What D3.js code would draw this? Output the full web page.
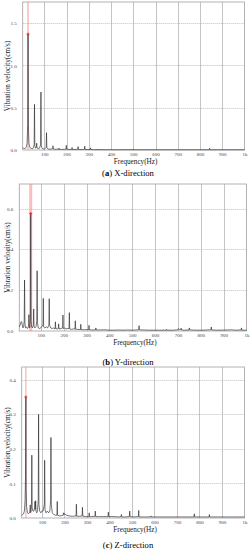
<!DOCTYPE html>
<html><head><meta charset="utf-8">
<script src="https://cdn.jsdelivr.net/npm/d3@7"></script>
<style>
html,body{margin:0;padding:0;background:#fff;}
svg{display:block;}
text{font-family:"Liberation Serif","Times New Roman",serif;}
</style></head>
<body><svg id="c" width="251" height="550"></svg>
<script>
// ---------- DATA ----------
const xTickValues = [100,200,300,400,500,600,700,800,900,1000];
const xTickLabels = ["100","200","300","400","500","600","700","800","900","1k"];
const xTitle = "Frequency(Hz)";
const yTitle = "Vibration velocity(cm/s)";
const captionLetters = ["a","b","c"];
const captionTexts = [" X-direction"," Y-direction"," Z-direction"];

const yTicksX = [0,0.5,1.0,1.5];
const yTicksY = [0,0.2,0.4,0.6];
const yTicksZ = [0,0.1,0.2,0.3,0.4];

const peakX = [27,1.37];
const peakY = [56,0.575];
const peakZ = [28.5,0.35];

const spectrumX = [[3,0.03],[6,0.02],[10,0.015],[15,0.02],[20,0.04],[23,0.09],[25.5,0.3],[27,1.37],[28.5,0.3],[31,0.08],[35,0.03],[40,0.02],[46,0.015],[50,0.02],[54.5,0.06],[56,0.54],[57.5,0.05],[61,0.02],[64.5,0.03],[66,0.08],[67.5,0.025],[72,0.015],[78,0.02],[83.5,0.06],[85,0.685],[86.5,0.05],[90,0.02],[96,0.012],[102,0.015],[108.5,0.03],[110,0.205],[111.5,0.025],[118,0.012],[126,0.01],[133,0.012],[137.5,0.015],[139,0.05],[140.5,0.012],[148,0.008],[156,0.01],[164.5,0.008],[166,0.022],[167.5,0.008],[178,0.007],[190,0.008],[197.5,0.01],[199,0.055],[200.5,0.01],[212,0.006],[223.5,0.007],[225,0.03],[226.5,0.006],[238,0.006],[250.5,0.008],[252,0.04],[253.5,0.007],[266,0.005],[280.5,0.008],[282,0.045],[283.5,0.006],[296,0.005],[306.5,0.006],[308,0.025],[309.5,0.005],[325,0.004],[336.5,0.004],[338,0.012],[339.5,0.004],[360,0.004],[380,0.003],[400,0.004],[420,0.003],[440,0.003],[460,0.004],[488.5,0.003],[490,0.01],[491.5,0.003],[500,0.004],[501,0.01],[502,0.003],[530,0.003],[560,0.003],[600,0.003],[650,0.003],[700,0.003],[750,0.003],[800,0.003],[841.5,0.003],[843,0.02],[844.5,0.003],[880,0.003],[920,0.003],[960,0.003],[1000,0.003]];

const spectrumY = [[6,0.02],[10,0.03],[14,0.045],[16,0.046],[19,0.03],[22,0.015],[25,0.02],[27.5,0.05],[29,0.25],[30.5,0.04],[33,0.015],[38,0.02],[42,0.012],[46.5,0.02],[48,0.08],[49.5,0.02],[52,0.015],[54.5,0.06],[56,0.575],[57.5,0.05],[60,0.02],[64,0.015],[67.5,0.03],[69,0.108],[70.5,0.02],[75,0.015],[79,0.02],[82.5,0.05],[84,0.295],[85.5,0.04],[89,0.015],[95,0.012],[100,0.015],[104,0.02],[109.5,0.03],[111,0.16],[112.5,0.02],[118,0.015],[124,0.02],[130,0.015],[135.5,0.03],[137,0.158],[138.5,0.03],[143,0.015],[150,0.012],[155,0.015],[162.5,0.01],[164,0.045],[165.5,0.012],[172,0.01],[176.5,0.012],[178,0.035],[179.5,0.01],[188,0.012],[195.5,0.015],[197,0.078],[198.5,0.012],[204,0.015],[210,0.01],[216,0.012],[223.5,0.012],[225,0.09],[226.5,0.01],[235,0.008],[242,0.01],[249.5,0.01],[251,0.05],[252.5,0.008],[262,0.008],[273.5,0.007],[275,0.033],[276.5,0.007],[290,0.006],[300,0.007],[309.5,0.006],[311,0.028],[312.5,0.006],[325,0.005],[339.5,0.005],[341,0.015],[342.5,0.005],[360,0.005],[380,0.006],[400,0.004],[420,0.004],[440,0.005],[460,0.004],[480,0.005],[500,0.004],[515,0.005],[528.5,0.006],[530,0.026],[531.5,0.006],[545,0.005],[570,0.004],[600,0.004],[630,0.004],[648.5,0.004],[650,0.008],[651.5,0.004],[680,0.004],[700.5,0.006],[702,0.012],[706,0.008],[712,0.006],[714,0.014],[716,0.005],[730,0.004],[748.5,0.005],[750,0.015],[751.5,0.005],[780,0.004],[810,0.004],[844.5,0.006],[846,0.02],[847.5,0.005],[880,0.004],[920,0.005],[935,0.006],[950,0.004],[976.5,0.005],[978,0.015],[979.5,0.004],[1000,0.004]];

const spectrumZ = [[10,0.008],[14,0.01],[18,0.012],[22,0.02],[25,0.05],[27,0.12],[28.5,0.35],[30,0.08],[32,0.03],[36,0.015],[40,0.012],[44,0.015],[46.5,0.02],[48,0.038],[49.5,0.015],[52,0.02],[53.5,0.04],[55,0.182],[56.5,0.03],[60,0.02],[64,0.02],[67.5,0.03],[69,0.048],[70.5,0.025],[72,0.05],[73.5,0.02],[77,0.015],[80,0.02],[83.5,0.05],[85,0.30],[86.5,0.04],[90,0.02],[95,0.015],[100,0.02],[105,0.02],[110.5,0.04],[112,0.167],[113.5,0.025],[118,0.015],[124,0.02],[130,0.015],[135,0.02],[138.5,0.05],[140,0.233],[141.5,0.04],[146,0.015],[152,0.01],[160,0.008],[166.5,0.008],[168,0.048],[169.5,0.008],[178,0.006],[186,0.007],[194.5,0.008],[196,0.015],[197.5,0.01],[202,0.012],[208,0.008],[220,0.006],[235,0.005],[251.5,0.006],[253,0.04],[254.5,0.005],[265,0.005],[278.5,0.006],[280,0.031],[281.5,0.005],[295,0.004],[308.5,0.004],[310,0.015],[311.5,0.004],[322,0.004],[335.5,0.005],[337,0.02],[338.5,0.004],[355,0.004],[375,0.004],[393.5,0.004],[395,0.017],[396.5,0.004],[420,0.004],[440,0.003],[451.5,0.004],[453,0.01],[454.5,0.003],[470,0.003],[488.5,0.004],[490,0.02],[491.5,0.004],[510,0.003],[528.5,0.004],[530,0.022],[531.5,0.003],[560,0.003],[582.5,0.003],[584,0.006],[585.5,0.003],[620,0.003],[660,0.003],[700,0.003],[740,0.003],[775.5,0.003],[777,0.012],[778.5,0.003],[810,0.003],[842.5,0.003],[844,0.01],[845.5,0.003],[880,0.003],[920,0.003],[960,0.003],[1000,0.003]];

// ---------- LAYOUT ----------
const panels = [
  {data:spectrumX, peak:peakX, yTicks:yTicksX, xDom:[3,1000], yMax:1.75, left:22.7, right:244.5, top:2, bottom:150, band:1.6, capY:176},
  {data:spectrumY, peak:peakY, yTicks:yTicksY, xDom:[6,1000], yMax:0.72, left:19.3, right:246.5, top:184, bottom:331, band:3, capY:365},
  {data:spectrumZ, peak:peakZ, yTicks:yTicksZ, xDom:[10,1000], yMax:0.437, left:21.7, right:244.5, top:367, bottom:518, band:1.4, capY:548}
];

const svg = d3.select("#c");

panels.forEach((p,i)=>{
  const x = d3.scaleLinear().domain(p.xDom).range([p.left,p.right]);
  const y = d3.scaleLinear().domain([0,p.yMax]).range([p.bottom,p.top]);
  const g = svg.append("g");

  // vertical grid
  g.append("g").selectAll("line").data(xTickValues.slice(0,-1)).join("line")
    .attr("x1",d=>Math.round(x(d))+0.5).attr("x2",d=>Math.round(x(d))+0.5)
    .attr("y1",p.top).attr("y2",p.bottom)
    .attr("stroke","#c4c4c4").attr("stroke-width",1);
  // horizontal grid (dotted)
  g.append("g").selectAll("line").data(p.yTicks.slice(1)).join("line")
    .attr("x1",p.left).attr("x2",p.right)
    .attr("y1",d=>Math.round(y(d))+0.5).attr("y2",d=>Math.round(y(d))+0.5)
    .attr("stroke","#b0b0b0").attr("stroke-width",0.8).attr("stroke-dasharray","1,1");

  // frame
  g.append("rect").attr("x",p.left).attr("y",p.top)
    .attr("width",p.right-p.left).attr("height",p.bottom-p.top)
    .attr("fill","none").attr("stroke","#a0a0a0").attr("stroke-width",0.8);

  // red cursor band
  g.append("rect").attr("x",x(p.peak[0])-p.band/2).attr("y",p.top)
    .attr("width",p.band).attr("height",p.bottom-p.top)
    .attr("fill","#f08a8a").attr("opacity",0.55);

  // spectrum line
  const line = d3.line().x(d=>x(d[0])).y(d=>y(d[1]));
  g.append("path").datum(p.data).attr("d",line)
    .attr("fill","none").attr("stroke","#2a2a2a").attr("stroke-width",0.65)
    .attr("stroke-linejoin","miter");

  // peak marker
  const px = x(p.peak[0]), py = y(p.peak[1]);
  g.append("path").attr("d",`M${px-1.5},${py}H${px+1.5}M${px},${py-1.5}V${py+1.5}`)
    .attr("stroke","#e03030").attr("stroke-width",1);

  // y axis
  const ya = d3.axisLeft(y).tickValues(p.yTicks).tickFormat(d3.format(".1f")).tickSize(0).tickPadding(6);
  const yg = g.append("g").attr("transform",`translate(${p.left},0)`).call(ya);
  yg.select(".domain").remove();
  yg.selectAll("text").attr("font-size",5).attr("fill","#444")
    .attr("font-family","Liberation Serif, serif");

  // x axis
  const xa = d3.axisBottom(x).tickValues(xTickValues).tickFormat((d,k)=>xTickLabels[k]).tickSize(0).tickPadding(2.5);
  const xg = g.append("g").attr("transform",`translate(0,${p.bottom})`).call(xa);
  xg.select(".domain").remove();
  xg.selectAll("text").attr("font-size",5).attr("fill","#444")
    .attr("font-family","Liberation Serif, serif");

  // titles
  g.append("text").attr("x",(p.left+p.right)/2+2).attr("y",p.bottom+14)
    .attr("text-anchor","middle").attr("font-size",7.2).attr("fill","#222").text(xTitle);
  g.append("text").attr("transform",`translate(${9.5},${(p.top+p.bottom)/2}) rotate(-90)`)
    .attr("text-anchor","middle").attr("font-size",7.2).attr("fill","#222").text(yTitle);

  // caption
  const cap = g.append("text").attr("x",128).attr("y",p.capY)
    .attr("text-anchor","middle").attr("font-size",8.6).attr("fill","#000");
  cap.append("tspan").text("(");
  cap.append("tspan").attr("font-weight","bold").text(captionLetters[i]);
  cap.append("tspan").text(")" + captionTexts[i]);
});
</script>
</body></html>
